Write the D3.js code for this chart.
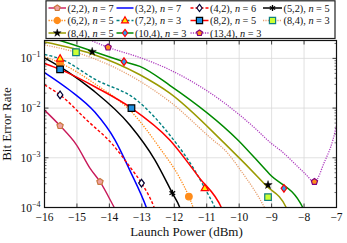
<!DOCTYPE html>
<html><head><meta charset="utf-8">
<script src="https://cdn.jsdelivr.net/npm/d3@7"></script>
<style>body{margin:0;background:#fff}text{font-family:"Liberation Serif","Times New Roman",serif;fill:#111}</style>
</head><body>
<svg id="c" width="347" height="243"></svg>
<script>
// ---- data (launch power in dBm, BER) ----
const xTicks = [-16,-15,-14,-13,-12,-11,-10,-9,-8,-7];
const yTickExps = [-4,-3,-2,-1];
const xDomain = [-16,-7];
const yDomain = [1e-4, 0.229];

const p22 = [-16,-15.52,-15.01,-14.6,-14.29,-13.85,-13.6];
const b22 = [9.1e-3,4.4e-3,1.8e-3,6.2e-4,3.3e-4,1.0e-4,5e-5];
const p32 = [-16,-15.23,-14.45,-13.83,-13.37,-12.86,-12.7];
const b32 = [5.2e-2,2.31e-2,8.3e-3,2.3e-3,5.6e-4,1e-4,5e-5];
const p42 = [-16,-15.52,-14.7,-13.89,-13.37,-13.01,-12.62,-12.5];
const b42 = [2.92e-2,1.84e-2,5.75e-3,1.82e-3,6.6e-4,3.1e-4,1e-4,6e-5];
const p52 = [-16,-15.28,-14.51,-13.37,-12.6,-12.06,-11.83,-11.75];
const b52 = [0.102,5.37e-2,2.29e-2,4.57e-3,9.1e-4,1.95e-4,1e-4,7e-5];
const p62 = [-16,-15.52,-14.42,-13.28,-12.45,-11.83,-11.55,-11.42,-11.35];
const b62 = [0.107,8.1e-2,3.0e-2,7.9e-3,1.58e-3,3.9e-4,1.66e-4,1e-4,7e-5];
const p72 = [-16,-15.52,-14.42,-13.16,-12.14,-11.37,-11.06,-10.75,-10.65];
const b72 = [0.120,9.86e-2,3.72e-2,1.45e-2,2.88e-3,5.6e-4,2.45e-4,1e-4,7e-5];
const p82 = [-16,-15.52,-14.42,-13.32,-12.14,-11.22,-10.55,-10.45];
const b82 = [7.9e-2,6.0e-2,2.63e-2,1e-2,2.29e-3,3.9e-4,1e-4,7e-5];
const p84a = [-16,-15.03,-13.06,-12.14,-10.81,-10.45,-9.9,-9.22,-9.1];
const b84a = [0.186,0.132,3.47e-2,1.35e-2,2.29e-3,1.45e-3,5e-4,1e-4,7e-5];
const p84b = [-16,-14.53,-13.06,-12.14,-10.45,-9.18,-8.55,-8.45];
const b84b = [0.214,0.123,4.68e-2,2.0e-2,1.95e-3,2.8e-4,1e-4,7e-5];
const p104 = [-16,-15.52,-13.55,-13.06,-12.14,-10.04,-9.06,-8.04,-7.95];
const b104 = [0.282,0.229,8.6e-2,6.9e-2,2.88e-2,2.29e-3,4.68e-4,1e-4,7e-5];
const p134 = [-14.6,-14.04,-13.06,-12.14,-10.45,-9.52,-9.01,-8.75,-7.98,-7.68,-7.37,-7.11,-6.95];
const b134 = [0.234,0.167,0.104,5.9e-2,1.26e-2,3.98e-3,1.95e-3,1.45e-3,4.9e-4,3.3e-4,8.3e-4,2.29e-3,6.3e-3];

// marker points
const m22p = [-15.52,-14.29], m22b = [4.4e-3,3.3e-4];
const m42p = [-15.52,-13.01], m42b = [1.84e-2,3.1e-4];
const m52p = [-12.06], m52b = [1.95e-4];
const m62p = [-15.52,-11.55], m62b = [8.1e-2,1.66e-4];
const m72p = [-15.52,-11.06], m72b = [9.9e-2,2.45e-4];
const m82p = [-15.52,-13.32], m82b = [6.0e-2,1.0e-2];
const m84ap = [-15.03,-9.11], m84ab = [0.133,1.62e-4];
const m84bp = [-14.53,-9.11], m84bb = [0.136,2.84e-4];
const m104p = [-13.55,-8.62], m104b = [8.6e-2,2.43e-4];
const m134p = [-14.04,-7.68], m134b = [0.167,3.3e-4];

const labels = ["(2,2)","(3,2)","(4,2)","(5,2)","(6,2)","(7,2)","(8,2)","(8,4)","(8,4)","(10,4)","(13,4)"];
const nVals = [7,7,6,5,5,3,5,3,5,3,3];

// ---- styles ----
const series = [
 {p:p22,b:b22,mp:m22p,mb:m22b,color:"#c8195a",dash:null,w:1.4,mk:"pentagon",mf:"#f0a0a0",ms:"#c87840"},
 {p:p32,b:b32,mp:[],mb:[],color:"#0000ff",dash:null,w:1.5,mk:null},
 {p:p42,b:b42,mp:m42p,mb:m42b,color:"#ff0000",dash:"3,2",w:1.4,mk:"diamond",mf:"#ffffff",ms:"#000033"},
 {p:p52,b:b52,mp:m52p,mb:m52b,color:"#000000",dash:null,w:1.5,mk:"asterisk",mf:"#000",ms:"#000"},
 {p:p62,b:b62,mp:m62p,mb:m62b,color:"#ff8c1a",dash:"1.3,1.3",w:1.3,mk:"circle",mf:"#ff8c1a",ms:"#ff8c1a"},
 {p:p72,b:b72,mp:m72p,mb:m72b,color:"#008080",dash:"3,2",w:1.4,mk:"triangle",mf:"#ffee00",ms:"#ff0000"},
 {p:p82,b:b82,mp:m82p,mb:m82b,color:"#ff0000",dash:null,w:1.5,mk:"square",mf:"#1e90e0",ms:"#000"},
 {p:p84a,b:b84a,mp:m84ap,mb:m84ab,color:"#e6a070",dash:"1.2,1.2",w:1.3,mk:"square",mf:"#ccff33",ms:"#108080"},
 {p:p84b,b:b84b,mp:m84bp,mb:m84bb,color:"#9a9a00",dash:null,w:1.5,mk:"star",mf:"#000",ms:"#000"},
 {p:p104,b:b104,mp:m104p,mb:m104b,color:"#008a00",dash:null,w:1.5,mk:"diamond",mf:"#2a9df4",ms:"#ff0000"},
 {p:p134,b:b134,mp:m134p,mb:m134b,color:"#b040c0",dash:"1.2,1.2",w:1.3,mk:"pentagon",mf:"#ff8c1a",ms:"#800080"}
];

const svg = d3.select("#c");
const L=44.5, R=336.5, T=40.5, B=207.5;
const x = d3.scaleLinear().domain(xDomain).range([L,R]);
const y = d3.scaleLog().domain(yDomain).range([B,T]);

// grid
const g = svg.append("g");
g.selectAll(".gx").data(xTicks).enter().append("line")
 .attr("x1",d=>x(d)).attr("x2",d=>x(d)).attr("y1",T).attr("y2",B)
 .attr("stroke","#d8d8d8").attr("stroke-width",0.8);
g.selectAll(".gy").data(yTickExps).enter().append("line")
 .attr("y1",d=>y(Math.pow(10,d))).attr("y2",d=>y(Math.pow(10,d))).attr("x1",L).attr("x2",R)
 .attr("stroke","#d8d8d8").attr("stroke-width",0.8);

// clip
svg.append("clipPath").attr("id","pc").append("rect").attr("x",L).attr("y",T).attr("width",R-L).attr("height",B-T);
const plot = svg.append("g").attr("clip-path","url(#pc)");

const line = d3.line().x(d=>x(d[0])).y(d=>y(d[1])).curve(d3.curveMonotoneX);
series.forEach(s=>{
  const pts = s.p.map((v,i)=>[v,s.b[i]]);
  plot.append("path").attr("d",line(pts)).attr("fill","none")
   .attr("stroke",s.color).attr("stroke-width",s.w)
   .attr("stroke-dasharray",s.dash).attr("stroke-linejoin","round");
});

function markerPath(type,r){
  if(type==="pentagon"){
    const pts=d3.range(5).map(i=>{const a=-Math.PI/2+i*2*Math.PI/5;return [r*Math.cos(a),r*Math.sin(a)];});
    return "M"+pts.map(p=>p.join(",")).join("L")+"Z";
  }
  if(type==="diamond"){ return `M0,${-r*1.15}L${r*0.85},0L0,${r*1.15}L${-r*0.85},0Z`; }
  if(type==="square"){ return `M${-r},${-r}H${r}V${r}H${-r}Z`; }
  if(type==="triangle"){ return `M0,${-r*1.2}L${r*1.1},${r*0.75}L${-r*1.1},${r*0.75}Z`; }
  if(type==="circle"){ return d3.symbol(d3.symbolCircle, Math.PI*r*r)(); }
  if(type==="star"){ return d3.symbol(d3.symbolStar, r*r*2.0)(); }
  if(type==="asterisk"){
    let s="";
    for(let i=0;i<3;i++){const a=-Math.PI/2+i*Math.PI/3;s+=`M${r*Math.cos(a)},${r*Math.sin(a)}L${-r*Math.cos(a)},${-r*Math.sin(a)}`;}
    return s;
  }
  return "";
}
function drawMarker(sel,s,cx,cy,r){
  if(!s.mk) return;
  const p = sel.append("path").attr("d",markerPath(s.mk,r)).attr("transform",`translate(${cx},${cy})`);
  if(s.mk==="asterisk"){ p.attr("fill","none").attr("stroke","#000").attr("stroke-width",1.3); }
  else if(s.mk==="star"){ p.attr("fill","#000").attr("stroke","#000").attr("stroke-width",0.4); }
  else { p.attr("fill",s.mf).attr("stroke",s.ms).attr("stroke-width",1.2); }
}
const mg = svg.append("g");
series.forEach(s=>{
  s.mp.forEach((v,i)=>drawMarker(mg,s,x(v),y(s.mb[i]),3.3));
});

// frame
svg.append("rect").attr("x",L).attr("y",T).attr("width",R-L).attr("height",B-T)
 .attr("fill","none").attr("stroke","#111").attr("stroke-width",1.2);

// ticks
const tk = svg.append("g").attr("stroke","#111").attr("stroke-width",0.8);
xTicks.forEach(t=>{
  tk.append("line").attr("x1",x(t)).attr("x2",x(t)).attr("y1",B).attr("y2",B-4);
  tk.append("line").attr("x1",x(t)).attr("x2",x(t)).attr("y1",T).attr("y2",T+4);
});
yTickExps.forEach(e=>{
  const yy=y(Math.pow(10,e));
  tk.append("line").attr("x1",L).attr("x2",L+4).attr("y1",yy).attr("y2",yy);
  tk.append("line").attr("x1",R).attr("x2",R-4).attr("y1",yy).attr("y2",yy);
  for(let k=2;k<=9;k++){
    const v=k*Math.pow(10,e);
    if(v>yDomain[1]) break;
    const ym=y(v);
    tk.append("line").attr("x1",L).attr("x2",L+2).attr("y1",ym).attr("y2",ym).attr("stroke-width",0.6);
    tk.append("line").attr("x1",R).attr("x2",R-2).attr("y1",ym).attr("y2",ym).attr("stroke-width",0.6);
  }
});

// tick labels
xTicks.forEach(t=>{
  svg.append("text").attr("x",x(t)).attr("y",220.5).attr("text-anchor","middle")
   .attr("font-size",11.5).text((t<0?"\u2212":"")+Math.abs(t));
});
yTickExps.forEach(e=>{
  const t=svg.append("text").attr("x",40.5).attr("y",y(Math.pow(10,e))+4).attr("text-anchor","end").attr("font-size",11.5);
  t.append("tspan").text("10");
  t.append("tspan").attr("font-size",8).attr("dy",-5).text("\u2212"+Math.abs(e));
});

// axis labels
svg.append("text").attr("x",(L+R)/2-4).attr("y",236).attr("text-anchor","middle").attr("font-size",13).text("Launch Power (dBm)");
svg.append("text").attr("transform",`translate(11,${(T+B)/2}) rotate(-90)`).attr("text-anchor","middle").attr("font-size",13).text("Bit Error Rate");

// legend
const lg = svg.append("g");
lg.append("rect").attr("x",46).attr("y",0.8).attr("width",289).attr("height",37.7)
 .attr("fill","#fff").attr("stroke","#222").attr("stroke-width",1.2);
const colX = [[48.5,66],[116.5,133.5],[190.5,208.5],[263,282]];
const rowY = [8,20.5,33];
series.forEach((s,i)=>{
  const r=Math.floor(i/4), c=i%4;
  const [x1,x2]=colX[c], yy=rowY[r];
  lg.append("line").attr("x1",x1).attr("x2",x2).attr("y1",yy).attr("y2",yy)
   .attr("stroke",s.color).attr("stroke-width",s.w).attr("stroke-dasharray",s.dash);
  drawMarker(lg,s,(x1+x2)/2,yy,3.1);
  const t=lg.append("text").attr("x",x2+1.5).attr("y",yy+3.5).attr("font-size",10.3);
  t.append("tspan").text(labels[i]+", ");
  t.append("tspan").attr("font-style","italic").text("n");
  t.append("tspan").text(" = "+nVals[i]);
});
</script>
</body></html>
